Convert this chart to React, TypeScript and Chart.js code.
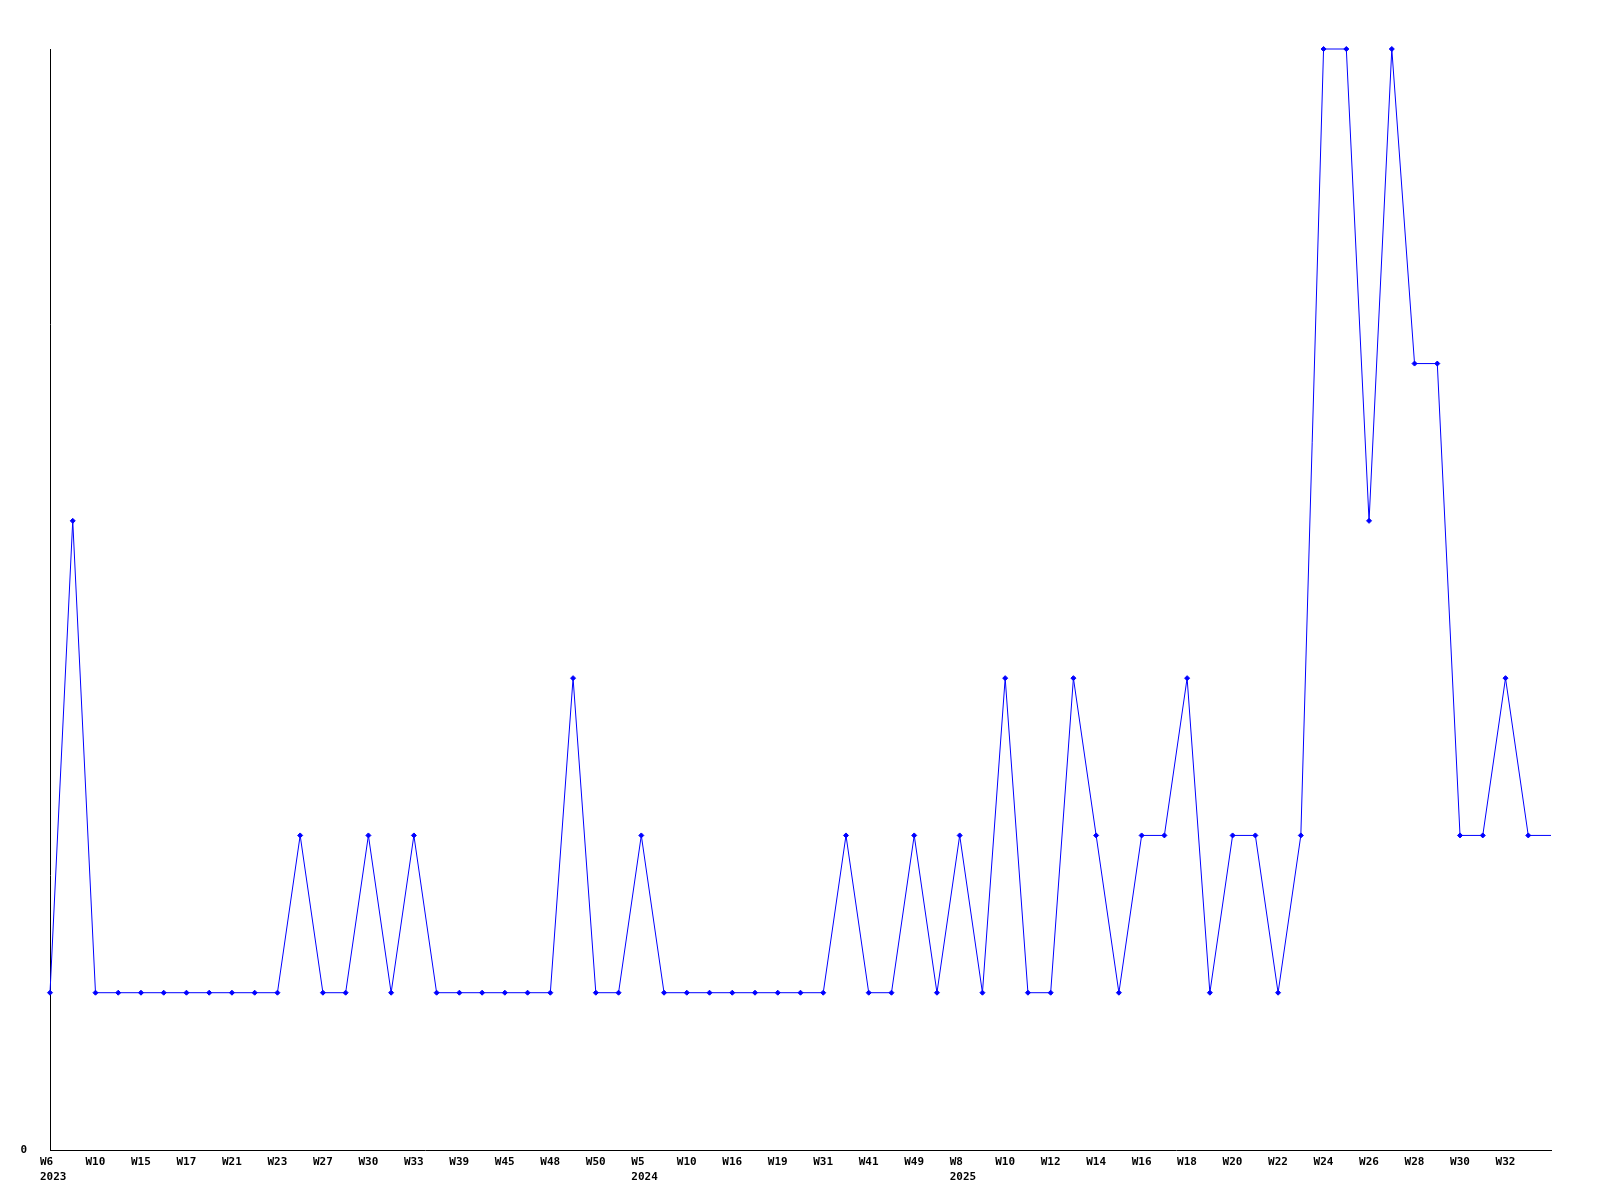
import React, { useEffect, useRef } from "react";
import { Chart, registerables } from "chart.js";

Chart.register(...registerables);

const weekLabels: string[] = [
  "W6", "W8", "W10", "W12", "W15", "W16", "W17", "W19", "W21", "W22",
  "W23", "W25", "W27", "W28", "W30", "W31", "W33", "W36", "W39", "W42",
  "W45", "W46", "W48", "W49", "W50", "W52", "W5", "W7", "W10", "W13",
  "W16", "W17", "W19", "W25", "W31", "W36", "W41", "W45", "W49", "W51",
  "W8", "W9", "W10", "W11", "W12", "W13", "W14", "W15", "W16", "W17",
  "W18", "W19", "W20", "W21", "W22", "W23", "W24", "W25", "W26", "W27",
  "W28", "W29", "W30", "W31", "W32", "W33", "W34",
];

const yearMarks: Record<number, string> = { 0: "2023", 26: "2024", 40: "2025" };

const counts: number[] = [
  1, 4, 1, 1, 1, 1, 1, 1, 1, 1,
  1, 2, 1, 1, 2, 1, 2, 1, 1, 1,
  1, 1, 1, 3, 1, 1, 2, 1, 1, 1,
  1, 1, 1, 1, 1, 2, 1, 1, 2, 1,
  2, 1, 3, 1, 1, 3, 2, 1, 2, 2,
  3, 1, 2, 2, 1, 2, 7, 7, 4, 7,
  5, 5, 2, 2, 3, 2, 2,
];

const yMin = 0;
const yMax = 7;

export default function App() {
  const ref = useRef<HTMLCanvasElement | null>(null);

  useEffect(() => {
    if (!ref.current) return;
    const labels = weekLabels.map((w, i) =>
      yearMarks[i] ? [w, yearMarks[i]] : w
    );
    const lastIdx = counts.length - 1;
    const chart = new Chart(ref.current, {
      type: "line",
      data: {
        labels,
        datasets: [
          {
            data: counts,
            borderColor: "#0000ff",
            backgroundColor: "#0000ff",
            borderWidth: 1,
            pointStyle: "rectRot",
            pointRadius: counts.map((_, i) => (i === lastIdx ? 0 : 2.5)),
            pointBorderWidth: 1,
            pointBorderColor: "#0000ff",
            pointBackgroundColor: "#0000ff",
            tension: 0,
            clip: false as any,
          },
        ],
      },
      options: {
        animation: false,
        responsive: false,
        maintainAspectRatio: false,
        layout: { padding: { left: 0, top: 49, right: 49, bottom: 10 } },
        plugins: {
          legend: { display: false },
          tooltip: { enabled: false },
        },
        scales: {
          x: {
            type: "category",
            offset: false,
            grid: { display: false, drawTicks: false },
            border: { display: true, color: "#000000", width: 1 },
            afterFit: (s: any) => {
              s.height = 40;
            },
            ticks: {
              autoSkip: false,
              maxRotation: 0,
              minRotation: 0,
              align: "start",
              labelOffset: -10,
              padding: 4,
              color: "#000000",
              font: { family: "'DejaVu Sans Mono', monospace", size: 11, weight: "bold", lineHeight: 1.4 },
              callback: function (this: any, _v: any, index: number) {
                if (index % 2 !== 0 || index >= lastIdx) return "";
                return labels[index] as any;
              },
            },
          },
          y: {
            min: yMin,
            max: yMax,
            grid: { display: false, drawTicks: false },
            border: { display: true, color: "#000000", width: 1 },
            afterFit: (s: any) => {
              s.width = 50;
            },
            afterBuildTicks: (s: any) => {
              s.ticks = [{ value: yMin }];
            },
            ticks: {
              padding: 23,
              color: "#000000",
              font: { family: "'DejaVu Sans Mono', monospace", size: 11, weight: "bold" },
            },
          },
        },
      },
    });
    return () => chart.destroy();
  }, []);

  return (
    <div style={{ position: "absolute", left: 0, top: 0, width: 1600, height: 1200, background: "#ffffff" }}>
      <canvas ref={ref} width={1600} height={1200} style={{ width: 1600, height: 1200 }} />
    </div>
  );
}
